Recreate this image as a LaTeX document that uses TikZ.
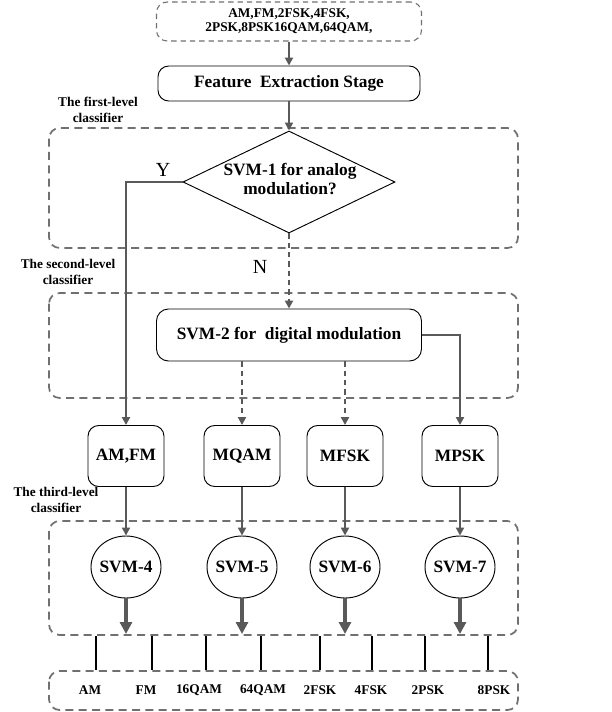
\documentclass[tikz,border=0pt]{standalone}
\usepackage{fontspec}
\setmainfont{Liberation Serif}
\usetikzlibrary{shapes.geometric,arrows.meta}
\definecolor{ln}{HTML}{595959}
\definecolor{dl}{HTML}{707070}
\begin{document}
\begin{tikzpicture}[x=0.75pt,y=-0.75pt,
  region/.style={draw=dl,line width=1.3pt,dash pattern=on 6pt off 4pt,rounded corners=8pt},
  box/.style={draw=black,line width=0.7pt,rounded corners=8pt,font=\fontsize{13}{15}\selectfont\bfseries,align=center,inner sep=0pt},
  txt/.style={font=\fontsize{13}{14}\selectfont\bfseries,align=center,inner sep=0pt},
  conn/.style={draw=ln,line width=1.5pt,-{Triangle[length=6pt,width=6pt]}},
  dconn/.style={conn,dash pattern=on 4pt off 3pt},
  bigarrow/.style={draw=ln,line width=3pt,-{Triangle[length=9pt,width=9pt]}},
  lvl/.style={font=\fontsize{10}{11.5}\selectfont\bfseries,align=center},
  outlbl/.style={font=\fontsize{10}{12}\selectfont\bfseries},
  yn/.style={font=\fontsize{15}{15}\selectfont},
  svmc/.style={ellipse,draw=black,line width=0.7pt,minimum width=52.5pt,minimum height=46.5pt,inner sep=0pt},
  tickln/.style={draw=black,line width=1.4pt},
]
\useasboundingbox (0,0) rectangle (611,712);

% regions
\draw[region] (49,128) rectangle (518,248);
\draw[region] (49,293) rectangle (518,398);
\draw[region] (49,521) rectangle (518,635);
\draw[region] (49,671) rectangle (518,710);

% level labels
\node[lvl] (l1) at (98,110) {The first-level\\classifier};
\node[lvl] (l2) at (68,272) {The second-level\\classifier};
\node[lvl] (l3) at (56,500) {The third-level\\classifier};

% input
\node[box,draw=dl,line width=0.8pt,dash pattern=on 4pt off 3pt,font=\fontsize{10}{10.5}\selectfont\bfseries,
      minimum width=198.75pt,minimum height=29.25pt] (inp) at (289,21.5)
      {AM,FM,2FSK,4FSK,\\2PSK,8PSK16QAM,64QAM,};

\node[box,minimum width=196.5pt,minimum height=26.25pt] (feat) at (289,83.5) {Feature\ \ Extraction Stage};

\node[diamond,aspect=2,draw=black,line width=0.7pt,inner sep=0pt,minimum width=159pt,minimum height=76.5pt] (d1) at (289,182) {};
\node[txt] (d1t) at (290,179) {SVM-1 for analog\\modulation?};

\node[yn] (ylbl) at (163,170) {Y};
\node[yn] (nlbl) at (260,267) {N};

\node[box,rounded corners=9pt,minimum width=198.75pt,minimum height=39pt] (s2) at (289,335) {SVM-2 for\ \ digital modulation};

\node[box,minimum width=57pt,minimum height=45.75pt] (b1) at (126,456) {AM,FM};
\node[box,minimum width=57pt,minimum height=45.75pt] (b2) at (242,456) {MQAM};
\node[box,minimum width=57pt,minimum height=45.75pt] (b3) at (345,456) {MFSK};
\node[box,minimum width=57pt,minimum height=45.75pt] (b4) at (460,456) {MPSK};

\node[svmc] (c1) at (126,567) {};
\node[svmc] (c2) at (242,567) {};
\node[svmc] (c3) at (345,567) {};
\node[svmc] (c4) at (460,567) {};
\node[txt] (c1t) at (c1) {SVM-4};
\node[txt] (c2t) at (c2) {SVM-5};
\node[txt] (c3t) at (c3) {SVM-6};
\node[txt] (c4t) at (c4) {SVM-7};

% connectors
\draw[conn] (inp.south) -- (feat.north);
\draw[conn] (feat.south) -- (d1.north);
\draw[conn] (d1.west) -| (b1.north);
\draw[dconn] (d1.south) -- (s2.north);
\draw[conn] (s2.east) -| (b4.north);
\draw[dconn] (s2.south -| b2.north) -- (b2.north);
\draw[dconn] (s2.south -| b3.north) -- (b3.north);
\draw[conn] (b1) -- (c1);
\draw[conn] (b2) -- (c2);
\draw[conn] (b3) -- (c3);
\draw[conn] (b4) -- (c4);

\coordinate (e1) at (126,634);
\coordinate (e2) at (242,634);
\coordinate (e3) at (345,634);
\coordinate (e4) at (460,634);
\draw[bigarrow] (c1) -- (e1);
\draw[bigarrow] (c2) -- (e2);
\draw[bigarrow] (c3) -- (e3);
\draw[bigarrow] (c4) -- (e4);

% output ticks
\foreach \x in {96,152,206,261,320,372,425,488}
  \draw[tickln] (\x,636) -- (\x,670);

\node[outlbl] (o1) at (90,690) {AM};
\node[outlbl] (o2) at (146,690) {FM};
\node[outlbl] (o3) at (199,690) {16QAM};
\node[outlbl] (o4) at (263,690) {64QAM};
\node[outlbl] (o5) at (320,690) {2FSK};
\node[outlbl] (o6) at (371,690) {4FSK};
\node[outlbl] (o7) at (428,690) {2PSK};
\node[outlbl] (o8) at (494,690) {8PSK};
\end{tikzpicture}
\end{document}
